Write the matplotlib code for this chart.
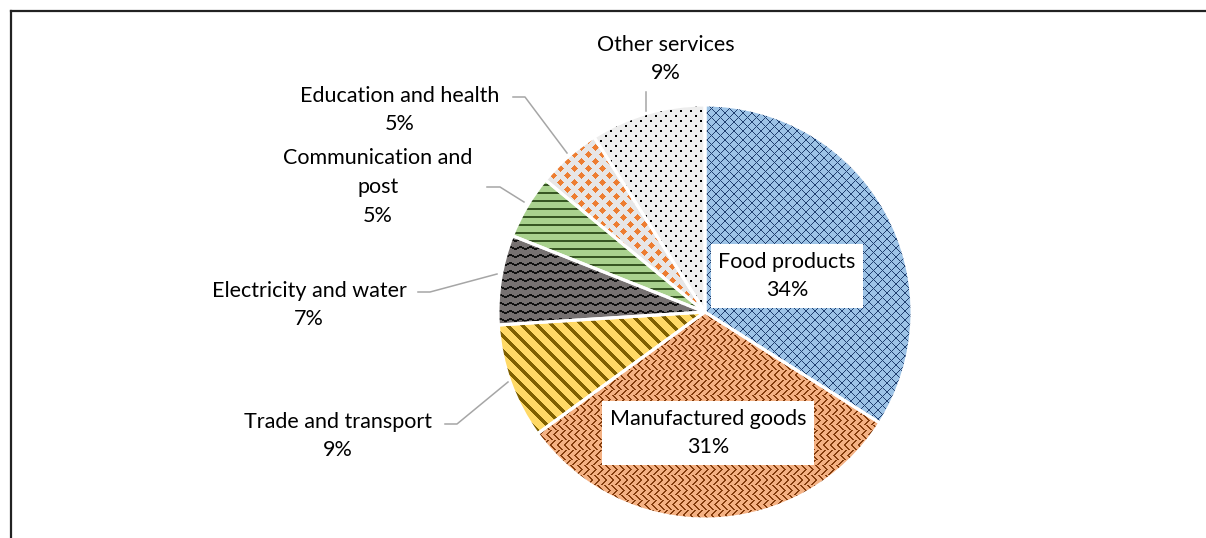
import numpy as np
import matplotlib
matplotlib.use("Agg")
import matplotlib.pyplot as plt
from matplotlib.patches import Wedge
from matplotlib.lines import Line2D

# ------ data -----------------------------------------------------------------
sectors = ["Food products", "Manufactured goods", "Trade and transport",
           "Electricity and water", "Communication and\npost",
           "Education and health", "Other services"]
shares = [34, 31, 9, 7, 5, 5, 9]

# ------ styles ---------------------------------------------------------------
W, H = 1206, 538
bg_colors = ["#9DC3E6", "#F4B183", "#FFD966", "#767171", "#A9D18E", "#E7E6E6", "#EDEDED"]
fg_colors = ["#1F3E6E", "#843C0C", "#7F6000", "#111111", "#375623", "#ED7D31", "#000000"]

yy, xx = np.mgrid[0:H, 0:W]

def tile(kind):
    if kind == 0:   # small diagonal grid
        return ((xx + yy) % 9 == 0) | ((xx - yy) % 9 == 0)
    if kind == 1:   # zig-zag weave
        band = (yy // 5) % 2 == 0
        return (band & ((xx + yy) % 7 < 2)) | (~band & ((xx - yy) % 7 < 2))
    if kind == 2:   # wide downward diagonal stripes
        return (xx - yy) % 15 < 5
    if kind == 3:   # horizontal zig-zag
        tri = np.abs((xx % 10) - 5) // 2
        return (yy + tri) % 8 < 2
    if kind == 4:   # horizontal lines
        return yy % 8 < 2
    if kind == 5:   # diamonds
        a = np.abs(((xx + 7) % 14) - 7) + np.abs(((yy + 7) % 14) - 7)
        b = np.abs((xx % 14) - 7) + np.abs((yy % 14) - 7)
        return (a <= 3) | (b <= 3)
    # dots
    d1 = (xx % 10 < 2) & (yy % 10 < 2)
    d2 = ((xx + 5) % 10 < 2) & ((yy + 5) % 10 < 2)
    return d1 | d2

def hex2rgb(c):
    c = c.lstrip("#")
    return np.array([int(c[i:i + 2], 16) for i in (0, 2, 4)]) / 255.0

plt.rcParams["font.family"] = ["Lato", "DejaVu Sans"]
fig = plt.figure(figsize=(W / 100, H / 100), dpi=100)
ax = fig.add_axes([0, 0, 1, 1])

cx, cy, r = 705, H - 312, 207
wedges, _ = ax.pie(shares, colors=bg_colors, startangle=90, counterclock=False,
                   center=(cx, cy), radius=r, frame=True,
                   wedgeprops=dict(linewidth=0))
ax.set_xlim(0, W)
ax.set_ylim(0, H)
ax.axis("off")

for i, w in enumerate(wedges):
    mask = tile(i)
    img = np.ones((H, W, 4))
    img[..., :3] = hex2rgb(bg_colors[i])
    img[mask, :3] = hex2rgb(fg_colors[i])
    im = ax.imshow(img, extent=(0, W, 0, H), origin="upper",
                   interpolation="nearest", zorder=2)
    im.set_clip_path(w)
    w.set_zorder(1)

# white separators
for w in wedges:
    ax.add_patch(Wedge(w.center, w.r, w.theta1, w.theta2, fill=False,
                       edgecolor="white", linewidth=2.2, zorder=3))

fs = 15.5
txt = dict(ha="center", va="center", fontsize=fs, color="#000000",
           linespacing=1.55, zorder=5)
box = dict(boxstyle="square,pad=0.35", facecolor="white", edgecolor="none")

labels = [f"{s}\n{v}%" for s, v in zip(sectors, shares)]
ax.text(787, H - 276, labels[0], bbox=box, **txt)
ax.text(708, H - 433, labels[1], bbox=box, **txt)
ax.text(338, H - 436, labels[2], **txt)
ax.text(309, H - 305, labels[3], **txt)
ax.text(378, H - 187, labels[4], **txt)
ax.text(400, H - 110, labels[5], **txt)
ax.text(666, H - 59, labels[6], **txt)

# leader lines
lead = dict(color="#A6A6A6", linewidth=1.1, zorder=4)
ax.plot([445, 457, 508], [H - 424, H - 424, H - 382], **lead)
ax.plot([418, 430, 497], [H - 292, H - 292, H - 274], **lead)
ax.plot([487, 500, 524], [H - 187, H - 187, H - 202], **lead)
ax.plot([513, 525, 567], [H - 97, H - 97, H - 153], **lead)
ax.plot([646, 646], [H - 92, H - 111], **lead)

# chart frame (cropped on right and bottom)
fig.add_artist(Line2D([10.5 / W, 10.5 / W], [0, 1 - 10.5 / H], color="#222222",
                      linewidth=1.6, transform=fig.transFigure))
fig.add_artist(Line2D([10.5 / W, 1], [1 - 10.5 / H, 1 - 10.5 / H], color="#222222",
                      linewidth=1.6, transform=fig.transFigure))

fig.savefig("out.png", dpi=100)
